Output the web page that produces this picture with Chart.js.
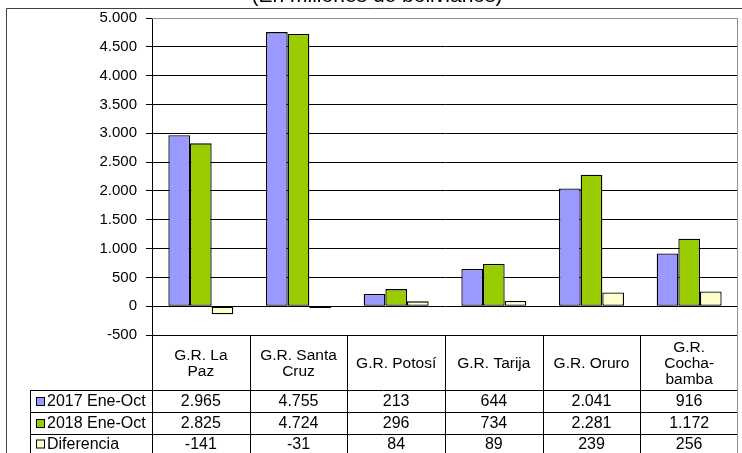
<!DOCTYPE html>
<html>
<head>
<meta charset="utf-8">
<script src="https://cdn.jsdelivr.net/npm/chart.js@4.4.1/dist/chart.umd.min.js"></script>
<style>
  html, body { margin: 0; padding: 0; background: #fff; }
  canvas { display: block; }
</style>
</head>
<body>
<canvas id="grafico" width="742" height="453"></canvas>
<script>
// datos del grafico
const categorias = [["G.R. La", "Paz"], ["G.R. Santa", "Cruz"], ["G.R. Potosí"], ["G.R. Tarija"], ["G.R. Oruro"], ["G.R.", "Cocha-", "bamba"]];
const series = ["2017 Ene-Oct", "2018 Ene-Oct", "Diferencia"];
const valores2017 = [2965, 4755, 213, 644, 2041, 916];
const valores2018 = [2825, 4724, 296, 734, 2281, 1172];
const diferencia = [-141, -31, 84, 89, 239, 256];
const titulo = "(En millones de bolivianos)";

const colores = ["#9999FF", "#99CC00", "#FFFFCC"];
const FUENTE = "'Liberation Sans', Arial, sans-serif";

// miles con punto, como en el original
function fmt(n) {
    const s = Math.abs(n).toString().replace(/\B(?=(\d{3})+(?!\d))/g, ".");
    return (n < 0 ? "-" : "") + s;
}

const tablaPlugin = {
    id: 'tabla',
    afterDraw(chart) {
        const ctx = chart.ctx;
        const area = chart.chartArea;
        const x = chart.scales.x;
        const datos = [valores2017, valores2018, diferencia];
        const ancho = (area.right - area.left) / categorias.length;
        const filas = [390, 412, 434];
        const fin = 453;

        ctx.save();
        // marco exterior
        ctx.strokeStyle = '#404040';
        ctx.lineWidth = 1;
        ctx.beginPath();
        ctx.moveTo(6.5, fin);
        ctx.lineTo(6.5, 8.5);
        ctx.lineTo(742, 8.5);
        ctx.stroke();

        // titulo (cortado arriba)
        ctx.fillStyle = '#000';
        ctx.font = "21px " + FUENTE;
        ctx.textAlign = 'center';
        ctx.textBaseline = 'alphabetic';
        ctx.fillText(titulo, 377, 2);

        // borde gris del area
        ctx.strokeStyle = '#909090';
        ctx.beginPath();
        ctx.moveTo(area.left, area.top + 0.5);
        ctx.lineTo(area.right - 0.5, area.top + 0.5);
        ctx.lineTo(area.right - 0.5, fin);
        ctx.stroke();

        // lineas de la tabla
        ctx.strokeStyle = '#000';
        ctx.beginPath();
        filas.forEach(y => {
            ctx.moveTo(30, y + 0.5);
            ctx.lineTo(area.right - 1, y + 0.5);
        });
        ctx.moveTo(30.5, filas[0]);
        ctx.lineTo(30.5, fin);
        for (let i = 0; i < categorias.length; i++) {
            const xc = Math.round(x.getPixelForValue(i) - ancho / 2) + 0.5;
            ctx.moveTo(xc, area.bottom);
            ctx.lineTo(xc, fin);
        }
        ctx.stroke();

        // etiquetas de categoria
        ctx.font = "15.5px " + FUENTE;
        ctx.textBaseline = 'middle';
        ctx.textAlign = 'center';
        const medio = (area.bottom + filas[0]) / 2;
        categorias.forEach((lineas, i) => {
            const xc = x.getPixelForValue(i);
            const y0 = medio - (lineas.length - 1) * 16 / 2;
            lineas.forEach((t, j) => ctx.fillText(t, xc, y0 + j * 16 + 1));
        });

        // filas de valores
        ctx.font = "16px " + FUENTE;
        series.forEach((nombre, s) => {
            const yc = (s < 2 ? (filas[s] + filas[s + 1]) / 2 : (filas[2] + fin) / 2) + 1;
            ctx.fillStyle = colores[s];
            ctx.fillRect(36, yc - 5, 9, 9);
            ctx.strokeStyle = '#000';
            ctx.strokeRect(36.5, yc - 4.5, 8, 8);
            ctx.fillStyle = '#000';
            ctx.textAlign = 'left';
            ctx.fillText(nombre, 47, yc);
            ctx.textAlign = 'center';
            datos[s].forEach((v, i) => ctx.fillText(fmt(v), x.getPixelForValue(i), yc));
        });
        ctx.restore();
    }
};

new Chart(document.getElementById('grafico'), {
    type: 'bar',
    data: {
        labels: categorias.map(c => c.join(' ')),
        datasets: [valores2017, valores2018, diferencia].map((d, i) => ({
            label: series[i],
            data: d,
            backgroundColor: colores[i],
            borderColor: '#000',
            borderWidth: 1.3,
            borderSkipped: false,
            categoryPercentage: 0.665,
            barPercentage: 1
        }))
    },
    options: {
        responsive: false,
        animation: false,
        devicePixelRatio: 1,
        layout: { padding: { left: 0, top: 16, right: 4, bottom: 118 } },
        plugins: {
            legend: { display: false },
            tooltip: { enabled: false }
        },
        scales: {
            x: { display: false },
            y: {
                min: -500,
                max: 5000,
                afterFit(scale) { scale.width = 152; },
                ticks: {
                    stepSize: 500,
                    color: '#000',
                    padding: 9,
                    font: { family: FUENTE, size: 15 },
                    callback: v => fmt(v)
                },
                grid: {
                    color: ctx => ctx.tick && ctx.tick.value === 5000 ? '#909090' : '#000',
                    tickColor: '#000',
                    tickLength: 6,
                    lineWidth: 1
                },
                border: { color: '#000' }
            }
        }
    },
    plugins: [tablaPlugin]
});
</script>
</body>
</html>
